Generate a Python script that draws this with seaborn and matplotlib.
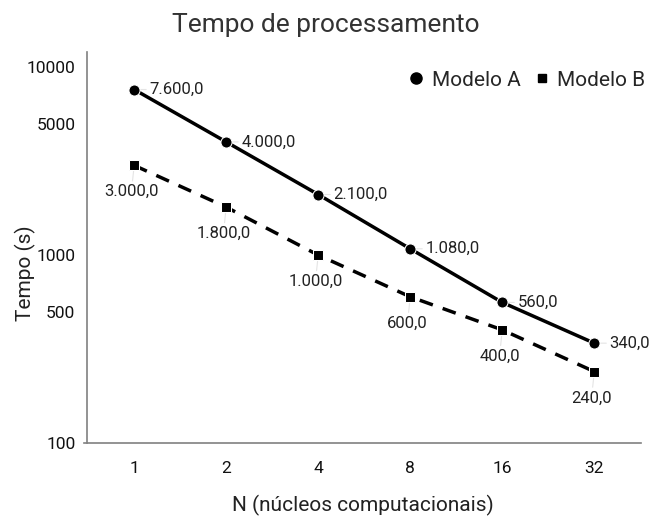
import pandas as pd
import matplotlib.pyplot as plt
import seaborn as sns
from matplotlib.lines import Line2D

nucleos = ["1", "2", "4", "8", "16", "32"]
modelo_a = [7600, 4000, 2100, 1080, 560, 340]
modelo_b = [3000, 1800, 1000, 600, 400, 240]

df = pd.DataFrame({
    "N": nucleos * 2,
    "Tempo": modelo_a + modelo_b,
    "Modelo": ["Modelo A"] * 6 + ["Modelo B"] * 6,
})

sns.set_style("white")
plt.rcParams['font.family'] = ['Roboto', 'DejaVu Sans']

fig = plt.figure(figsize=(6.51, 5.17), dpi=100)
ax = fig.add_axes([0.134, 0.143, 0.851, 0.756])

sns.lineplot(data=df[df.Modelo == "Modelo A"], x="N", y="Tempo", color="black",
             marker="o", markersize=8, linewidth=2.5, ax=ax, sort=False, zorder=3)
sns.lineplot(data=df[df.Modelo == "Modelo B"], x="N", y="Tempo", color="black",
             marker="s", markersize=7, linewidth=2.5, linestyle=(0, (4, 3)), ax=ax,
             sort=False, zorder=3)

ax.set_yscale("log")
ax.set_ylim(100, 12000)
ax.set_xlim(-0.51, 5.51)
ax.set_yticks([100, 500, 1000, 5000, 10000])
ax.set_yticklabels(["100", "500", "1000", "5000", "10000"])
ax.yaxis.set_minor_locator(plt.NullLocator())

def fmt(v):
    return f"{v:,.1f}".replace(",", "X").replace(".", ",").replace("X", ".")

for i, v in enumerate(modelo_a):
    ax.annotate(fmt(v), (i, v), xytext=(11, 0), textcoords="offset points",
                ha="left", va="center", fontsize=12, color="#222222", zorder=1,
                arrowprops=dict(arrowstyle="-", color="#e4e4e4", lw=0.8, shrinkA=0, shrinkB=0))
for i, v in enumerate(modelo_b):
    ax.annotate(fmt(v), (i, v), xytext=(-2, -19), textcoords="offset points",
                ha="center", va="center", fontsize=12, color="#222222", zorder=1,
                arrowprops=dict(arrowstyle="-", color="#e4e4e4", lw=0.8, shrinkA=0, shrinkB=0))

for s in ["top", "right"]:
    ax.spines[s].set_visible(False)
for s in ["left", "bottom"]:
    ax.spines[s].set_color("#808080")
    ax.spines[s].set_linewidth(1.2)
ax.spines["bottom"].set_bounds(-0.55, 5.51)

ax.tick_params(axis="both", which="major", direction="inout", length=10, width=1,
               color="#606060", labelsize=12.5, labelcolor="#111111")
ax.tick_params(axis="x", pad=8)

ax.set_xlabel("N (núcleos computacionais)", fontsize=15, color="#222222")
ax.set_ylabel("Tempo (s)", fontsize=15, color="#222222")
ax.xaxis.set_label_coords(0.497, -0.133)
ax.yaxis.set_label_coords(-0.092, 0.435)
fig.suptitle("Tempo de processamento", fontsize=19, color="#333333", y=0.975)

handles = [
    Line2D([], [], color="black", marker="o", linestyle="none", markersize=8),
    Line2D([], [], color="black", marker="s", linestyle="none", markersize=6),
]
ax.legend(handles, ["Modelo A", "Modelo B"], loc="upper right", bbox_to_anchor=(1.03, 0.985),
          ncol=2, frameon=False, fontsize=15, handletextpad=0.25, columnspacing=0.5,
          handlelength=1.0, borderaxespad=0.2)

fig.savefig("out.png", dpi=100)
